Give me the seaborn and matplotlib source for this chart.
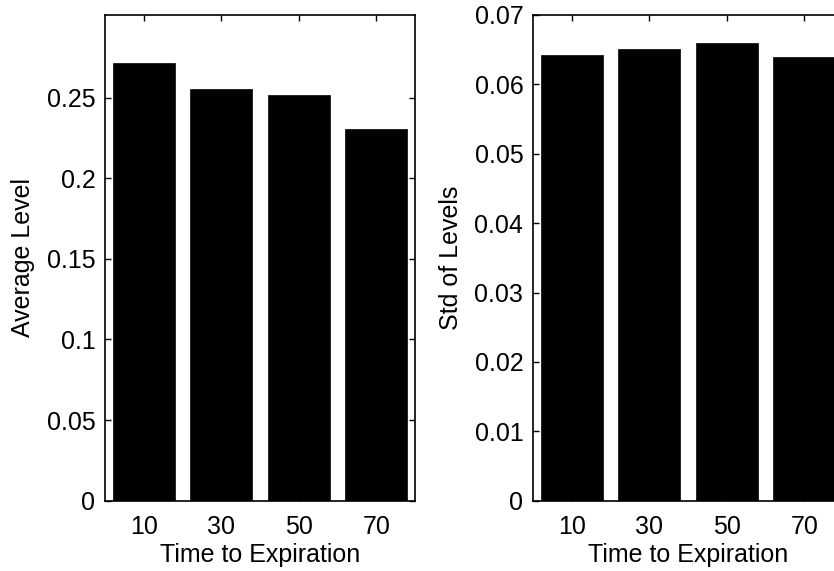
import matplotlib
matplotlib.use('Agg')
import matplotlib.pyplot as plt
import seaborn as sns
import pandas as pd

# values
expiration = [10, 30, 50, 70]
average_level = [0.2717, 0.2556, 0.2519, 0.2308]
std_levels = [0.0643, 0.0651, 0.0660, 0.0640]

left_yticks = [0, 0.05, 0.1, 0.15, 0.2, 0.25]
left_ylabels = ['0', '0.05', '0.1', '0.15', '0.2', '0.25']
right_yticks = [0, 0.01, 0.02, 0.03, 0.04, 0.05, 0.06, 0.07]
right_ylabels = ['0', '0.01', '0.02', '0.03', '0.04', '0.05', '0.06', '0.07']

sns.set_style('ticks')
plt.rcParams['font.family'] = ['Liberation Sans', 'DejaVu Sans']
plt.rcParams['font.size'] = 18
plt.rcParams['text.color'] = 'black'
plt.rcParams['axes.labelcolor'] = 'black'
plt.rcParams['xtick.color'] = 'black'
plt.rcParams['ytick.color'] = 'black'

df = pd.DataFrame({'expiration': expiration, 'avg': average_level, 'std': std_levels})

fig = plt.figure(figsize=(8.34, 5.71), dpi=100)
ax1 = fig.add_axes([105 / 834, (571 - 500.7) / 571, 310 / 834, 485.7 / 571])
ax2 = fig.add_axes([533 / 834, (571 - 500.7) / 571, 310 / 834, 485.7 / 571])


def draw_panel(ax, col, ylim, yticks, ylabels, ylabel):
    sns.barplot(data=df, x='expiration', y=col, native_scale=True, width=0.8,
                color='black', edgecolor='black', saturation=1, linewidth=0.5,
                errorbar=None, ax=ax)
    ax.set_xlim(0, 80)
    ax.set_ylim(*ylim)
    ax.set_xticks(expiration)
    ax.set_xticklabels([str(v) for v in expiration])
    ax.set_yticks(yticks)
    ax.set_yticklabels(ylabels)
    ax.tick_params(direction='in', length=4.5, width=1.0, top=True, right=True,
                   labelsize=18, colors='black')
    ax.tick_params(axis='x', pad=10)
    ax.tick_params(axis='y', pad=7)
    for s in ax.spines.values():
        s.set_visible(True)
        s.set_linewidth(1.2)
        s.set_color('black')
    ax.set_xlabel('Time to Expiration', fontsize=18, color='black')
    ax.set_ylabel(ylabel, fontsize=18, color='black')
    ax.xaxis.label.set_va('center')
    ax.yaxis.label.set_va('center')
    ax.xaxis.set_label_coords(0.5, -0.112)
    ax.yaxis.set_label_coords(-0.265, 0.5)


draw_panel(ax1, 'avg', (0, 0.3013), left_yticks, left_ylabels, 'Average Level')
draw_panel(ax2, 'std', (0, 0.07), right_yticks, right_ylabels, 'Std of Levels')

fig.savefig('out.png', dpi=100)
